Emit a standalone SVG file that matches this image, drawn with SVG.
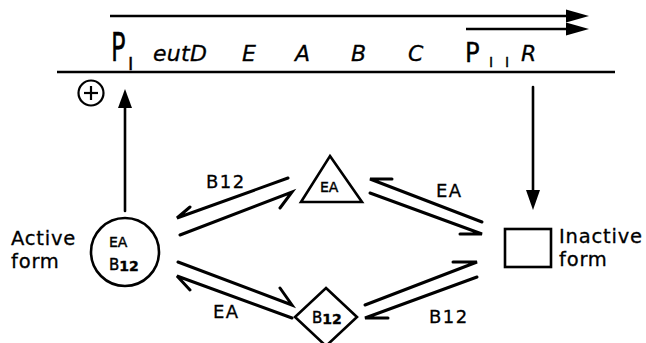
<svg xmlns="http://www.w3.org/2000/svg" width="646" height="343" viewBox="0 0 646 343">
<style>
.ln{stroke:#000;stroke-width:2.6;fill:none;stroke-linecap:round}
.hp{stroke:#000;stroke-width:3;fill:none;stroke-linecap:round;stroke-linejoin:miter}
.sh{stroke:#000;stroke-width:2.6;fill:#fff}
.t{font-family:"DejaVu Sans",sans-serif;fill:#000;stroke:#000;stroke-width:0.4}
.g{font-family:"DejaVu Sans",sans-serif;font-style:italic;font-size:22px;fill:#000;stroke:#000;stroke-width:0.3}
.lab{font-family:"DejaVu Sans",sans-serif;font-size:18px;letter-spacing:1.5px;fill:#000;stroke:#000;stroke-width:0.3}
.big{font-family:"DejaVu Sans",sans-serif;font-size:19.5px;letter-spacing:0.8px;fill:#000;stroke:#000;stroke-width:0.3}
</style>
<rect width="646" height="343" fill="#fff"/>
<g id="operon">
<line x1="110" y1="16" x2="572" y2="16" stroke="#000" stroke-width="2.4"/>
<path d="M566,9.5 L589,16 L566,22.5 z" fill="#000"/>
<line x1="466" y1="29" x2="572" y2="29" stroke="#000" stroke-width="2.4"/>
<path d="M566,22.5 L589,29 L566,35.5 z" fill="#000"/>
<line x1="57" y1="72" x2="615" y2="72" stroke="#000" stroke-width="2.6"/>
<text class="t" font-size="39" stroke-width="1.6" transform="translate(111,61) scale(0.62,1)">P</text>
<text class="t" font-size="18" stroke-width="1" x="128" y="70">I</text>
<text class="g" x="153" y="61" letter-spacing="0.3">eutD</text>
<text class="g" x="242" y="61">E</text>
<text class="g" x="295" y="61">A</text>
<text class="g" x="351" y="61">B</text>
<text class="g" x="408" y="61">C</text>
<text class="t" font-size="27" stroke-width="0.8" transform="translate(465,62) scale(0.9,1)">P</text>
<text class="t" font-size="14" stroke-width="1" x="489" y="67">I</text>
<text class="t" font-size="14" stroke-width="1" x="505" y="67">I</text>
<text class="g" x="521" y="61">R</text>
</g>
<g id="plus">
<circle cx="91" cy="93" r="12.5" fill="none" stroke="#000" stroke-width="2.2"/>
<line x1="84" y1="93" x2="98" y2="93" stroke="#000" stroke-width="2.2"/>
<line x1="91" y1="86" x2="91" y2="100" stroke="#000" stroke-width="2.2"/>
</g>
<g id="active">
<circle cx="125" cy="252" r="34" class="sh"/>
<text class="t" font-size="14" x="109" y="247">EA</text>
<text class="t" font-size="15" x="109" y="270">B<tspan font-size="14" font-weight="bold" dy="1">12</tspan></text>
<text class="big" x="11" y="245">Active</text>
<text class="big" x="11" y="268">form</text>
</g>
<g id="triangle">
<path d="M330,156 L362,202 L301,202 z" class="sh"/>
<text class="t" font-size="14" x="320" y="192">EA</text>
</g>
<g id="diamond">
<path d="M326,288 L357,317 L326,346 L295,317 z" class="sh"/>
<text class="t" font-size="15" x="312" y="323">B<tspan font-size="14" font-weight="bold" dy="1">12</tspan></text>
</g>
<g id="inactive">
<rect x="505" y="229" width="46" height="38" class="sh"/>
<text class="big" x="559" y="243">Inactive</text>
<text class="big" x="559" y="266">form</text>
</g>
<g id="connectors">
<line x1="125" y1="211" x2="125" y2="104" class="ln"/>
<path d="M118,108 L125,89 L132,108 z" fill="#000"/>
<line x1="533" y1="87" x2="533" y2="194" class="ln"/>
<path d="M526,190 L533,210 L540,190 z" fill="#000"/>
<path d="M288,178 L177,218 L190,207" class="hp"/>
<path d="M180,235 L292,192 L280,208" class="hp"/>
<path d="M178,262 L292,305 L280,288" class="hp"/>
<path d="M292,318 L177,276 L190,290" class="hp"/>
<path d="M482,222 L370,179 L392,179" class="hp"/>
<path d="M370,193 L482,234 L460,234" class="hp"/>
<path d="M365,305 L477,262 L453,262" class="hp"/>
<path d="M477,277 L365,318 L388,318" class="hp"/>
<text class="lab" x="206" y="188">B12</text>
<text class="lab" x="213" y="318">EA</text>
<text class="lab" x="436" y="197">EA</text>
<text class="lab" x="429" y="323">B12</text>
</g>
</svg>
